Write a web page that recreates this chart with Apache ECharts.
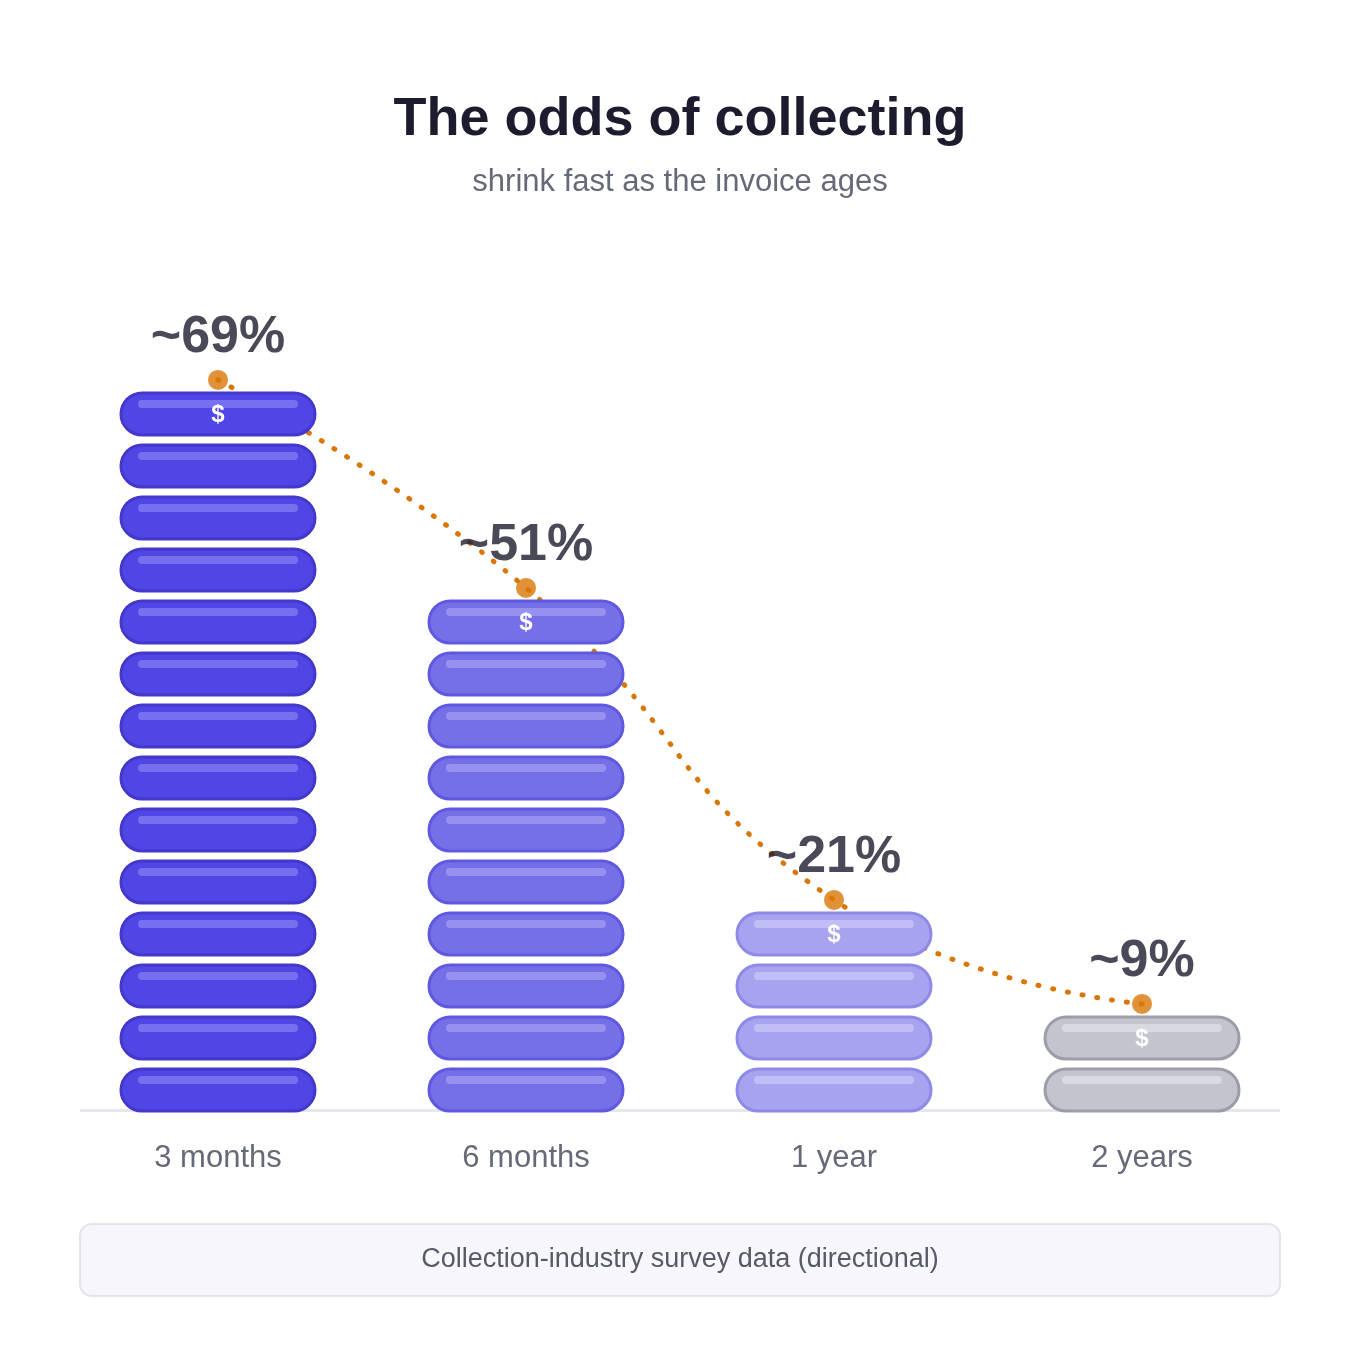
<!DOCTYPE html>
<html>
<head>
<meta charset="utf-8">
<script src="https://cdn.jsdelivr.net/npm/echarts@6/dist/echarts.min.js"></script>
<style>html,body{margin:0;background:#fff}#c{width:1360px;height:1360px}</style>
</head>
<body>
<div id="c"></div>
<script>
// data
var categories = ['3 months', '6 months', '1 year', '2 years'];
var odds = [69, 51, 21, 9];
var coinCounts = [14, 10, 4, 2];
var oddsLabels = ['~69%', '~51%', '~21%', '~9%'];

// coin colors per stack: fill, border, highlight
var palette = [
    ['#4f46e5', '#4338ca', '#7b74ee'],
    ['#7570e8', '#5f58e0', '#9a95f0'],
    ['#a7a3ef', '#8f8ae8', '#c4c1f6'],
    ['#c4c4ce', '#9d9da8', '#dcdce3']
];

var chart = echarts.init(document.getElementById('c'));

// one item per coin
var coins = [];
for (var i = 0; i < categories.length; i++) {
    for (var j = 0; j < coinCounts[i]; j++) {
        coins.push([i, j, j === coinCounts[i] - 1 ? 1 : 0]);
    }
}

var dots = coinCounts.map(function (n, i) { return [i, n + 0.06]; });

var option = {
    animation: false,
    title: {
        text: 'The odds of collecting',
        subtext: 'shrink fast as the invoice ages',
        left: 'center',
        top: 88,
        itemGap: 20,
        textStyle: { fontFamily: 'Liberation Sans', fontSize: 54, fontWeight: 'bold', color: '#1c1c2e' },
        subtextStyle: { fontFamily: 'Liberation Sans', fontSize: 31, color: '#666a78' }
    },
    grid: { left: 64, right: 64, top: 279, bottom: 249 },
    xAxis: {
        type: 'category',
        data: categories,
        axisLine: { show: false },
        axisTick: { show: false },
        axisLabel: { margin: 32, fontFamily: 'Liberation Sans', fontSize: 31, color: '#666a78' }
    },
    yAxis: { type: 'value', min: 0, max: 16, show: false },
    graphic: [
        { type: 'rect', shape: { x: 80, y: 1109, width: 1200, height: 3 }, style: { fill: '#e6e6ec' }, z: 0 },
        {
            type: 'rect', shape: { x: 80, y: 1224, width: 1200, height: 72, r: 12 },
            style: { fill: '#f7f7fb', stroke: '#e4e4ec', lineWidth: 2 }
        },
        {
            type: 'text', x: 680, y: 1260,
            style: { text: 'Collection-industry survey data (directional)', fontFamily: 'Liberation Sans', fontSize: 27, fill: '#555a66', align: 'center', verticalAlign: 'middle' }
        }
    ],
    series: [
        {
            type: 'line',
            data: dots,
            smooth: 0.5,
            symbol: 'none',
            z: 1,
            lineStyle: { color: '#d97706', width: 5, type: [1, 14], cap: 'round' }
        },
        {
            type: 'custom',
            z: 3,
            data: coins,
            renderItem: function (params, api) {
                var idx = api.value(0), k = api.value(1), isTop = api.value(2);
                var bottom = api.coord([idx, k]);
                var top = api.coord([idx, k + 0.81]);
                var w = 194, h = bottom[1] - top[1];
                var x = bottom[0] - w / 2, y = top[1];
                var c = palette[idx];
                var children = [
                    { type: 'rect', shape: { x: x, y: y, width: w, height: h, r: h / 2 }, style: { fill: c[0], stroke: c[1], lineWidth: 3 } },
                    { type: 'rect', shape: { x: x + 17, y: y + 7, width: w - 34, height: 8, r: 4 }, style: { fill: c[2], opacity: 0.9 } }
                ];
                if (isTop) {
                    children.push({
                        type: 'text', x: bottom[0], y: y + h / 2 + 1,
                        style: { text: '$', fontFamily: 'Liberation Sans', fontWeight: 'bold', fontSize: 24, fill: '#ffffff', align: 'center', verticalAlign: 'middle' }
                    });
                }
                return { type: 'group', children: children };
            }
        },
        {
            type: 'scatter',
            z: 5,
            data: dots,
            symbolSize: 20,
            itemStyle: { color: '#d97706' },
            label: {
                show: true,
                position: 'top',
                distance: 6,
                formatter: function (p) { return oddsLabels[p.dataIndex]; },
                fontFamily: 'Liberation Sans',
                fontWeight: 'bold',
                fontSize: 52,
                color: '#1c1c2e'
            }
        }
    ]
};
chart.setOption(option);
</script>
</body>
</html>
